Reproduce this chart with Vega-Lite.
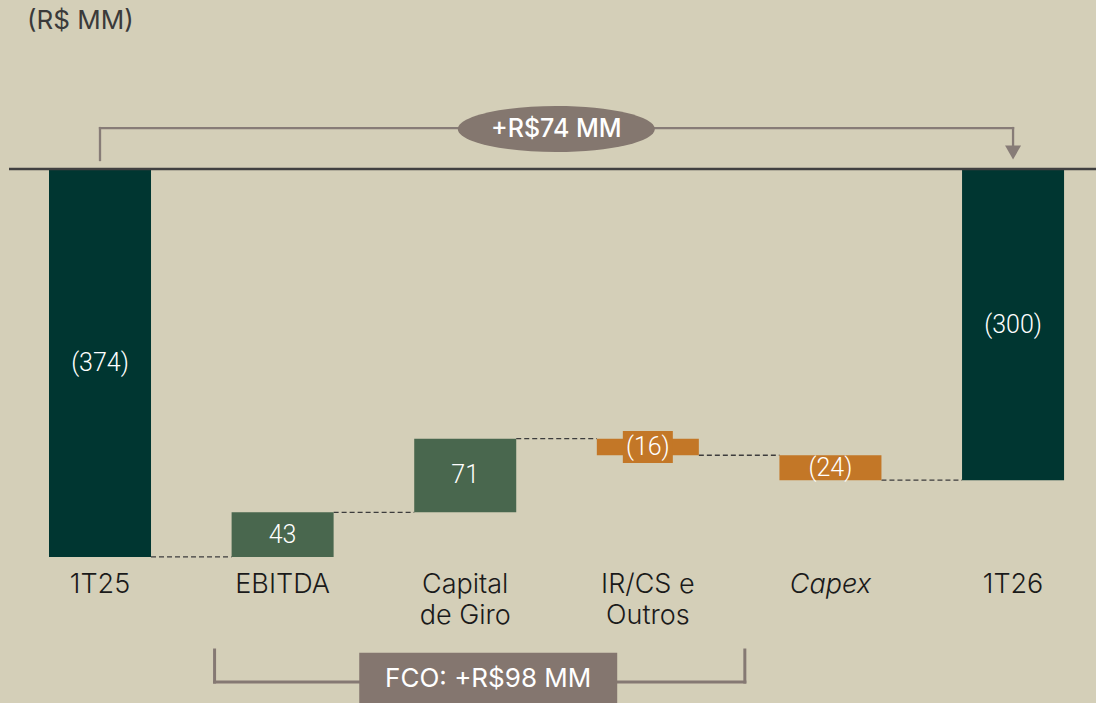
{
  "$schema": "https://vega.github.io/schema/vega-lite/v6.json",
  "width": 1087,
  "height": 703,
  "autosize": "none",
  "padding": {"left": 9, "top": 0, "right": 0, "bottom": 0},
  "background": "#D4CFB8",
  "config": {"view": {"stroke": null}, "axis": {"grid": false}},
  "datasets": {
    "bars": [
      {"cat": "1T25", "amount": -374, "from": 0, "to": -374, "kind": "total"},
      {"cat": "EBITDA", "amount": 43, "from": -374, "to": -331, "kind": "pos"},
      {"cat": "Capital de Giro", "amount": 71, "from": -331, "to": -260, "kind": "pos"},
      {"cat": "IR/CS e Outros", "amount": -16, "from": -260, "to": -276, "kind": "neg"},
      {"cat": "Capex", "amount": -24, "from": -276, "to": -300, "kind": "neg"},
      {"cat": "1T26", "amount": -300, "from": 0, "to": -300, "kind": "total"}
    ],
    "links": [
      {"a": "1T25", "b": "EBITDA", "lvl": -374},
      {"a": "EBITDA", "b": "Capital de Giro", "lvl": -331},
      {"a": "Capital de Giro", "b": "IR/CS e Outros", "lvl": -260},
      {"a": "IR/CS e Outros", "b": "Capex", "lvl": -276},
      {"a": "Capex", "b": "1T26", "lvl": -300}
    ]
  },
  "layer": [
    {
      "data": {"name": "links"},
      "mark": {"type": "rule", "strokeDash": [5, 3], "strokeWidth": 1.3, "color": "#3d3d3d"},
      "encoding": {
        "x": {
          "field": "a", "type": "nominal", "bandPosition": 1,
          "scale": {
            "domain": ["1T25", "EBITDA", "Capital de Giro", "IR/CS e Outros", "Capex", "1T26"],
            "paddingInner": 0.4414, "paddingOuter": 0.197, "align": 0.556
          },
          "axis": {
            "orient": "bottom", "offset": -132, "domain": false, "ticks": false, "title": null,
            "labelPadding": 0, "labelAngle": 0, "labelFont": "Inter", "labelFontSize": 27,
            "labelFontWeight": 300,
            "labelColor": "#1a1a1a", "labelBaseline": "top", "labelLineHeight": 31,
            "labelOverlap": false, "labelAlign": "center",
            "labelExpr": "datum.value == 'Capital de Giro' ? ['Capital', 'de Giro'] : datum.value == 'IR/CS e Outros' ? ['IR/CS e', 'Outros'] : datum.label",
            "labelFontStyle": {"condition": {"test": "datum.value == 'Capex'", "value": "italic"}, "value": "normal"}
          }
        },
        "x2": {"field": "b", "bandPosition": 0},
        "y": {
          "field": "lvl", "type": "quantitative",
          "scale": {"domain": [-514.9, 163], "nice": false, "zero": false},
          "axis": null
        }
      }
    },
    {
      "data": {"name": "bars"},
      "mark": {"type": "bar"},
      "encoding": {
        "x": {"field": "cat", "type": "nominal"},
        "y": {"field": "from", "type": "quantitative"},
        "y2": {"field": "to"},
        "color": {
          "field": "kind", "type": "nominal",
          "scale": {"domain": ["total", "pos", "neg"], "range": ["#003631", "#49674E", "#C37727"]},
          "legend": null
        }
      }
    },
    {
      "data": {"values": [{}]},
      "mark": {"type": "bar", "width": 50, "color": "#C37727"},
      "encoding": {
        "x": {"datum": "IR/CS e Outros", "type": "nominal"},
        "y": {"datum": -252.6, "type": "quantitative"},
        "y2": {"datum": -283.5}
      }
    },
    {
      "data": {"name": "bars"},
      "transform": [{"fold": ["from", "to"], "as": ["k", "lvl"]}],
      "mark": {"type": "text", "font": "Roboto", "fontWeight": 300, "fontSize": 25, "color": "#ffffff", "baseline": "middle", "align": "center"},
      "encoding": {
        "x": {"field": "cat", "type": "nominal"},
        "y": {"aggregate": "mean", "field": "lvl", "type": "quantitative"},
        "text": {"field": "amount", "type": "quantitative", "format": "(.0f"}
      }
    },
    {
      "data": {"values": [{}]},
      "mark": {"type": "rule", "color": "#404040", "strokeWidth": 2.5},
      "encoding": {"y": {"datum": 0, "type": "quantitative"}}
    },
    {
      "data": {"values": [{}]},
      "mark": {"type": "rule", "color": "#877C77", "strokeWidth": 2.3, "strokeCap": "square"},
      "encoding": {
        "x": {"datum": "1T25", "type": "nominal"},
        "y": {"datum": 8.7, "type": "quantitative"},
        "y2": {"datum": 39.5}
      }
    },
    {
      "data": {"values": [{}]},
      "mark": {"type": "rule", "color": "#877C77", "strokeWidth": 2.3, "strokeCap": "square"},
      "encoding": {
        "x": {"datum": "1T25", "type": "nominal"},
        "x2": {"datum": "1T26"},
        "y": {"datum": 39.5, "type": "quantitative"}
      }
    },
    {
      "data": {"values": [{}]},
      "mark": {"type": "rule", "color": "#877C77", "strokeWidth": 2.3, "strokeCap": "square"},
      "encoding": {
        "x": {"datum": "1T26", "type": "nominal"},
        "y": {"datum": 39.5, "type": "quantitative"},
        "y2": {"datum": 18}
      }
    },
    {
      "data": {"values": [{}]},
      "mark": {"type": "point", "shape": "triangle-down", "size": 256, "filled": true, "color": "#877C77", "opacity": 1},
      "encoding": {
        "x": {"datum": "1T26", "type": "nominal"},
        "y": {"datum": 15.9, "type": "quantitative"}
      }
    },
    {
      "data": {"values": [{}]},
      "mark": {
        "type": "point",
        "shape": "M -1 0 C -1 -0.129 -0.5523 -0.2335 0 -0.2335 C 0.5523 -0.2335 1 -0.129 1 0 C 1 0.129 0.5523 0.2335 0 0.2335 C -0.5523 0.2335 -1 0.129 -1 0 Z",
        "size": 38809, "filled": true, "color": "#84776F", "opacity": 1, "strokeWidth": 0
      },
      "encoding": {
        "x": {"datum": "IR/CS e Outros", "type": "nominal", "bandPosition": -0.397},
        "y": {"datum": 38.6, "type": "quantitative"}
      }
    },
    {
      "data": {"values": [{}]},
      "mark": {"type": "text", "text": "+R$74 MM", "font": "Inter", "fontWeight": 500, "fontSize": 25, "color": "#ffffff", "baseline": "middle", "align": "center"},
      "encoding": {
        "x": {"datum": "IR/CS e Outros", "type": "nominal", "bandPosition": -0.397},
        "y": {"datum": 38.6, "type": "quantitative"}
      }
    },
    {
      "data": {"values": [{}]},
      "mark": {"type": "rule", "color": "#857973", "strokeWidth": 3, "strokeCap": "square"},
      "encoding": {
        "x": {"datum": "EBITDA", "type": "nominal", "bandPosition": -0.167},
        "y": {"datum": -463.8, "type": "quantitative"},
        "y2": {"datum": -494.7}
      }
    },
    {
      "data": {"values": [{}]},
      "mark": {"type": "rule", "color": "#857973", "strokeWidth": 3, "strokeCap": "square"},
      "encoding": {
        "x": {"datum": "EBITDA", "type": "nominal", "bandPosition": -0.167},
        "x2": {"datum": "IR/CS e Outros", "bandPosition": 1.451},
        "y": {"datum": -494.7, "type": "quantitative"}
      }
    },
    {
      "data": {"values": [{}]},
      "mark": {"type": "rule", "color": "#857973", "strokeWidth": 3, "strokeCap": "square"},
      "encoding": {
        "x": {"datum": "IR/CS e Outros", "type": "nominal", "bandPosition": 1.451},
        "y": {"datum": -463.8, "type": "quantitative"},
        "y2": {"datum": -494.7}
      }
    },
    {
      "data": {"values": [{}]},
      "mark": {"type": "rect", "color": "#84766F"},
      "encoding": {
        "x": {"datum": "Capital de Giro", "type": "nominal", "bandPosition": -0.539},
        "x2": {"datum": "Capital de Giro", "bandPosition": 1.99},
        "y": {"datum": -466.5, "type": "quantitative"},
        "y2": {"datum": -520}
      }
    },
    {
      "data": {"values": [{}]},
      "mark": {"type": "text", "text": "FCO: +R$98 MM", "font": "Inter", "fontWeight": 400, "fontSize": 26, "color": "#ffffff", "baseline": "middle", "align": "center"},
      "encoding": {
        "x": {"datum": "Capital de Giro", "type": "nominal", "bandPosition": 0.725},
        "y": {"datum": -491.8, "type": "quantitative"}
      }
    },
    {
      "data": {"values": [{}]},
      "mark": {"type": "text", "text": "(R$ MM)", "font": "Inter", "fontWeight": 400, "fontSize": 26, "color": "#3a3a3a", "baseline": "alphabetic", "align": "left"},
      "encoding": {
        "x": {"datum": "1T25", "type": "nominal", "bandPosition": -0.216},
        "y": {"datum": 135.5, "type": "quantitative"}
      }
    }
  ]
}
